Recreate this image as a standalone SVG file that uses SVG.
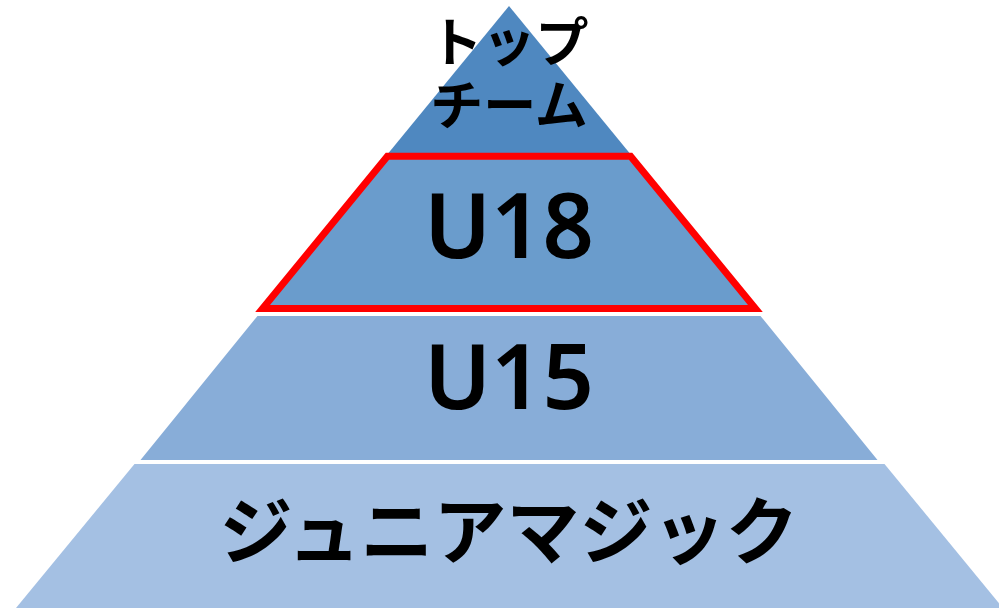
<svg xmlns="http://www.w3.org/2000/svg" width="999" height="608" viewBox="0 0 999 608">
  <style>
    .jp { font-family: "Noto Sans CJK JP", "Noto Sans", sans-serif; font-weight: 700; fill: #000; text-anchor: middle; }
    .lat { font-family: "Noto Sans", "Open Sans", "Liberation Sans", sans-serif; font-weight: 600; fill: #000; text-anchor: middle; }
  </style>
  <rect width="999" height="608" fill="#ffffff"/>
  <g id="layer-top">
    <polygon points="509,6 388.5,153 629.5,153" fill="#4f88c0"/>
    <text class="jp" x="509" y="62" font-size="53">トップ</text>
    <text class="jp" x="509" y="125" font-size="53">チーム</text>
  </g>
  <g id="layer-u18">
    <polygon points="387.4,156.3 630.6,156.3 755.4,308.5 262.6,308.5" fill="#6a9ccc" stroke="#ff0000" stroke-width="7" stroke-linejoin="miter"/>
    <text class="lat" x="509" y="258" font-size="90">U18</text>
  </g>
  <g id="layer-u15">
    <polygon points="257.5,316 760.5,316 877.5,460 140.5,460" fill="#88add8"/>
    <text class="lat" x="509" y="409" font-size="90">U15</text>
  </g>
  <g id="layer-junior">
    <polygon points="134.5,464 884.5,464 1003,608 16,608" fill="#a4c0e3"/>
    <text class="jp" x="509" y="558" font-size="73">ジュニアマジック</text>
  </g>
  <g id="connectors"/>
</svg>
